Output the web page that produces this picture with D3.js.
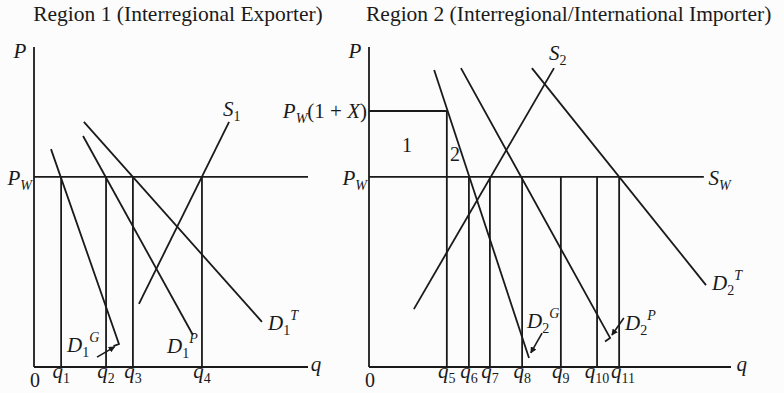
<!DOCTYPE html>
<html>
<head>
<meta charset="utf-8">
<script src="https://cdn.jsdelivr.net/npm/d3@7"></script>
<style>
  body { margin: 0; background: #fcfcfc; }
  svg { display: block; }
  text { font-family: "Liberation Serif", "Times New Roman", serif; fill: #1a1a1a; }
</style>
</head>
<body>
<div id="chart"></div>
<script>
// --- data (abstract units: q on 0..100, P on 0..100) ---
var titles = ["Region 1 (Interregional Exporter)", "Region 2 (Interregional/International Importer)"];
var pW = 59.4;          // world price
var pW1X = 80;          // P_W(1 + X)

var leftQLabels = ["1", "2", "3", "4"];
var leftQ = [9.9, 26.3, 36.1, 61.3];
var rightQLabels = ["5", "6", "7", "8", "9", "10", "11"];
var rightQ = [21.5, 27.6, 33.4, 42.3, 53.0, 63.0, 69.1];

// curves: [q, P] points
var d1G = [[6.2, 68.1], [31.0, 7.2], [29.0, 6.5]];
var d1P = [[17.9, 72.2], [58.0, 10.0]];
var d1T = [[18.2, 76.6], [83.2, 14.1]];
var s1 = [[38.3, 19.7], [71.2, 76.6]];

var d2G = [[18.0, 92.8], [44.2, 2.8]];
var d2P = [[25.4, 93.4], [66.6, 9.1], [65.2, 8.0]];
var d2T = [[45.0, 93.4], [93.1, 25.6]];
var s2 = [[12.4, 18.1], [51.1, 93.4]];

// pointer arrows from labels
var leftArrows = [[[23.0, 3.1], [29.4, 6.3]]];
var rightArrows = [[[47.8, 10.6], [44.7, 4.4]], [[70.4, 15.3], [67.1, 10.0]]];

var W = 784, H = 393;
var ink = "#1a1a1a";

var svg = d3.select("#chart").append("svg")
  .attr("width", W).attr("height", H);

svg.append("defs").append("marker")
  .attr("id", "arr").attr("viewBox", "0 0 10 10")
  .attr("refX", 9).attr("refY", 5)
  .attr("markerWidth", 4).attr("markerHeight", 4)
  .attr("orient", "auto")
  .append("path").attr("d", "M0,0L10,5L0,10Z").attr("fill", ink);

var y = d3.scaleLinear().domain([0, 100]).range([367, 47]);
var xL = d3.scaleLinear().domain([0, 100]).range([34, 308]);
var xR = d3.scaleLinear().domain([0, 100]).range([369, 731]);

var line = function(x) {
  return d3.line().x(d => x(d[0])).y(d => y(d[1]));
};

// label with italic main letter, optional subscript and superscript
function label(g, px, py, main, sub, sup, anchor) {
  var t = g.append("text").attr("x", px).attr("y", py)
    .attr("text-anchor", anchor || "start").style("font-size", "21px");
  t.append("tspan").style("font-style", "italic").text(main);
  if (sub) {
    t.append("tspan").attr("dy", 5).style("font-size", "14px")
      .style("font-style", isNaN(+sub) ? "italic" : "normal").text(sub);
  }
  if (sup) {
    t.append("tspan").attr("dy", sub ? -15 : -9).style("font-size", "14px")
      .style("font-style", "italic").text(sup);
  }
  return t;
}

function drawPanel(x, xMax, qVals, qLabels, curves, arrows, topQ) {
  var g = svg.append("g")
    .attr("fill", "none").attr("stroke", ink).attr("stroke-width", 1.8);

  // axes
  g.append("line").attr("x1", x(0)).attr("x2", x(0)).attr("y1", y(100)).attr("y2", y(0));
  g.append("line").attr("x1", x(0)).attr("x2", x(xMax)).attr("y1", y(0)).attr("y2", y(0));

  // quantity drop lines
  g.selectAll(".q").data(qVals).enter().append("line")
    .attr("x1", d => x(d)).attr("x2", d => x(d))
    .attr("y1", (d, i) => y(i === 0 && topQ ? topQ : pW)).attr("y2", y(0));

  // curves
  g.selectAll(".c").data(curves).enter().append("path")
    .attr("d", d => line(x)(d));

  // arrows
  g.selectAll(".a").data(arrows).enter().append("path")
    .attr("d", d => line(x)(d)).attr("stroke-width", 1.6)
    .attr("marker-end", "url(#arr)");

  // q labels, nudged apart where the lines are too close
  var tg = svg.append("g");
  var prev = -1e9;
  qVals.forEach(function(v, i) {
    var w = qLabels[i].length > 1 ? 26 : 20;
    var cx = Math.max(x(v), prev + w / 2);
    label(tg, cx, 378, "q", qLabels[i], null, "middle");
    prev = cx + w / 2;
  });
  tg.append("text").attr("x", x(0) + 1).attr("y", 387).attr("text-anchor", "middle")
    .style("font-size", "20px").text("0");
  label(tg, x(0) - 14, 58, "P", null, null, "middle");
  label(tg, x(0) - 2, 185, "P", "W", null, "end");
  return { g: g, tg: tg };
}

// --- Region 1 ---
var p1 = drawPanel(xL, 100, leftQ, leftQLabels, [d1G, d1P, d1T, s1], leftArrows, null);
p1.g.append("line").attr("x1", xL(0)).attr("x2", xL(100)).attr("y1", y(pW)).attr("y2", y(pW));
label(p1.tg, xL(101), 371, "q");
label(p1.tg, 223, 116, "S", "1");
label(p1.tg, 268, 330, "D", "1", "T");
label(p1.tg, 167, 353, "D", "1", "P");
label(p1.tg, 67, 352, "D", "1", "G");

svg.append("text").attr("x", 178).attr("y", 21).attr("text-anchor", "middle")
  .style("font-size", "21.5px").text(titles[0]);

// --- Region 2 ---
var p2 = drawPanel(xR, 100, rightQ, rightQLabels, [d2G, d2P, d2T, s2], rightArrows, pW1X);
p2.g.append("line").attr("x1", xR(0)).attr("x2", xR(92.5)).attr("y1", y(pW)).attr("y2", y(pW));
p2.g.append("line").attr("x1", xR(0)).attr("x2", xR(rightQ[0])).attr("y1", y(pW1X)).attr("y2", y(pW1X));
label(p2.tg, xR(101.5), 371, "q");
label(p2.tg, xR(93.8), 185, "S", "W");
label(p2.tg, 549, 60, "S", "2");
label(p2.tg, 712, 290, "D", "2", "T");
label(p2.tg, 625, 330, "D", "2", "P");
label(p2.tg, 527, 328, "D", "2", "G");

// P_W(1 + X)
var pl = label(p2.tg, xR(0) - 2, 118, "P", "W", null, "end");
pl.append("tspan").attr("dy", -5).text("(1 + ");
pl.append("tspan").style("font-style", "italic").text("X");
pl.append("tspan").text(")");

p2.tg.append("text").attr("x", 407).attr("y", 152).attr("text-anchor", "middle")
  .style("font-size", "20px").text("1");
p2.tg.append("text").attr("x", 455).attr("y", 161).attr("text-anchor", "middle")
  .style("font-size", "20px").text("2");

svg.append("text").attr("x", 366).attr("y", 21)
  .style("font-size", "21.5px").text(titles[1]);
</script>
</body>
</html>
